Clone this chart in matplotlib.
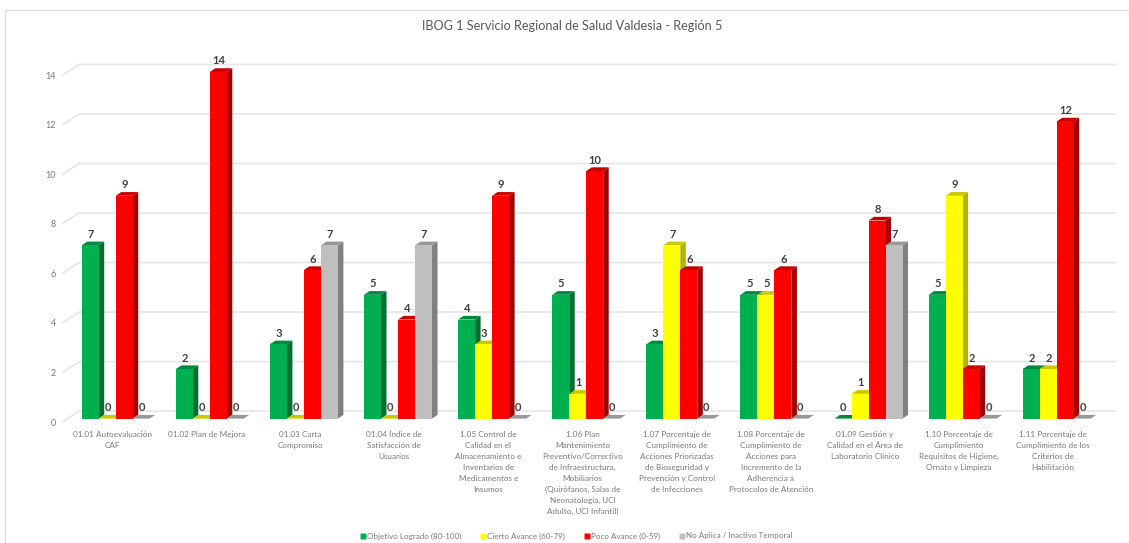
import numpy as np
import matplotlib
matplotlib.use("Agg")
import matplotlib.pyplot as plt
from matplotlib.patches import Polygon
from matplotlib.lines import Line2D

title = "IBOG 1 Servicio Regional de Salud Valdesia - Región 5"
categories = [
    "01.01 Autoevaluación\nCAF",
    "01.02 Plan de Mejora",
    "01.03 Carta\nCompromiso",
    "01.04 Índice de\nSatisfacción de\nUsuarios",
    "1.05 Control de\nCalidad en el\nAlmacenamiento e\nInventarios de\nMedicamentos e\nInsumos",
    "1.06 Plan\nMantenimiento\nPreventivo/Correctivo\nde Infraestructura,\nMobiliarios\n(Quirófanos, Salas de\nNeonatología, UCI\nAdulto, UCI Infantil)",
    "1.07 Porcentaje de\nCumplimiento de\nAcciones Priorizadas\nde Bioseguridad y\nPrevención y Control\nde Infecciones",
    "1.08 Porcentaje de\nCumplimiento de\nAcciones para\nIncremento de la\nAdherencia a\nProtocolos de Atención",
    "01.09 Gestión y\nCalidad en el Área de\nLaboratorio Clínico",
    "1.10 Porcentaje de\nCumplimiento\nRequisitos de Higiene,\nOrnato y Limpieza",
    "1.11 Porcentaje de\nCumplimiento de los\nCriterios de\nHabilitación",
]
logrado = [7, 2, 3, 5, 4, 5, 3, 5, 0, 5, 2]
cierto = [0, 0, 0, 0, 3, 1, 7, 5, 1, 9, 2]
poco = [9, 14, 6, 4, 9, 10, 6, 6, 8, 2, 12]
no_aplica = [0, 0, 7, 7, 0, 0, 0, 0, 7, 0, 0]
series_names = ["Objetivo Logrado (80-100)", "Cierto Avance (60-79)",
                "Poco Avance (0-59)", "No Aplica / Inactivo Temporal"]
y_ticks = [0, 2, 4, 6, 8, 10, 12, 14]

FRONT = ["#00B050", "#FFFF00", "#FF0000", "#BFBFBF"]
TOP = ["#008A3E", "#CCC800", "#C80000", "#989898"]
SIDE = ["#006F32", "#B4B400", "#A00000", "#808080"]
TXT = "#7A7A7A"
plt.rcParams["font.family"] = ["Lato", "DejaVu Sans"]

W, H = 1129, 543
fig = plt.figure(figsize=(W / 100, H / 100), dpi=100, facecolor="white")
fig.add_artist(Line2D([4.5 / W, 4.5 / W, 1], [0, 1 - 9.5 / H, 1 - 9.5 / H],
                      transform=fig.transFigure, color="#DCDCDC", lw=1))

PX_UNIT_Y = 24.76
PX_GROUP = 94.1
left, right = 60.0, 1118.0
top_px, bot_px = 55.0, 425.0
ax = fig.add_axes([left / W, 1 - bot_px / H, (right - left) / W, (bot_px - top_px) / H])
x0_px = 115.7
ax.set_xlim((left - x0_px) / PX_GROUP, (right - x0_px) / PX_GROUP)
ax.set_ylim((418.6 - bot_px) / PX_UNIT_Y, (418.6 - top_px) / PX_UNIT_Y)
for s in ax.spines.values():
    s.set_visible(False)
ax.patch.set_alpha(0)

bw = 17.0 / PX_GROUP
dx = 5.5 / PX_GROUP
dy = 3.7 / PX_UNIT_Y
wall_x = (79 - x0_px) / PX_GROUP
wall_y = 7.5 / PX_UNIT_Y
end_x = (1115 - x0_px) / PX_GROUP
tick_dx = (63 - 79) / PX_GROUP
tick_dy = -10.5 / PX_UNIT_Y

for v in y_ticks:
    ax.plot([wall_x + tick_dx, wall_x, end_x],
            [v + wall_y + tick_dy, v + wall_y, v + wall_y],
            color="#E6E6E6", lw=1.2, zorder=1, solid_joinstyle="miter")

series = [logrado, cierto, poco, no_aplica]
z = 2.0
for g in range(len(categories)):
    for k, vals in enumerate(series):
        v = vals[g]
        xl = g + (k - 2) * bw
        xr = xl + bw
        ax.add_patch(Polygon([[xr, 0], [xr + dx, dy], [xr + dx, v + dy], [xr, v]],
                             fc=SIDE[k], ec="none", zorder=z))
        ax.add_patch(Polygon([[xl, v], [xl + dx, v + dy], [xr + dx, v + dy], [xr, v]],
                             fc=TOP[k], ec="none", zorder=z))
        ax.bar(xl, v, width=bw, align="edge", color=FRONT[k], lw=0, zorder=z + 0.1)
        ax.text(xl + bw / 2 + 0.005, v + 11 / PX_UNIT_Y, str(v), ha="center", va="center",
                fontsize=8, fontweight="bold", color="#404040", zorder=50)
        z += 0.2

ax.set_xticks(np.arange(len(categories)) - 3.7 / PX_GROUP)
ax.set_xticklabels(categories, fontsize=5.9, color=TXT, linespacing=1.66, va="top")
ax.tick_params(axis="x", length=0, pad=4.2)
ax.set_yticks(np.array(y_ticks) - 3.4 / PX_UNIT_Y)
ax.set_yticklabels([str(v) for v in y_ticks], fontsize=6.5, color=TXT)
ax.tick_params(axis="y", length=0, pad=3)

fig.text(572.5 / W, 1 - 26 / H, title, ha="center", va="center", fontsize=9.1, color="#595959")

handles = [Line2D([], [], marker="s", ls="none", ms=4.2, mfc=c, mec="none") for c in FRONT]
fig.legend(handles, series_names, loc="center", bbox_to_anchor=(575.5 / W, 1 - 536 / H),
           ncol=4, frameon=False, fontsize=5.8, labelcolor=TXT, handletextpad=0.0,
           columnspacing=2.2, borderpad=0, handlelength=1.0)

fig.savefig("out.png", dpi=100, facecolor="white")
